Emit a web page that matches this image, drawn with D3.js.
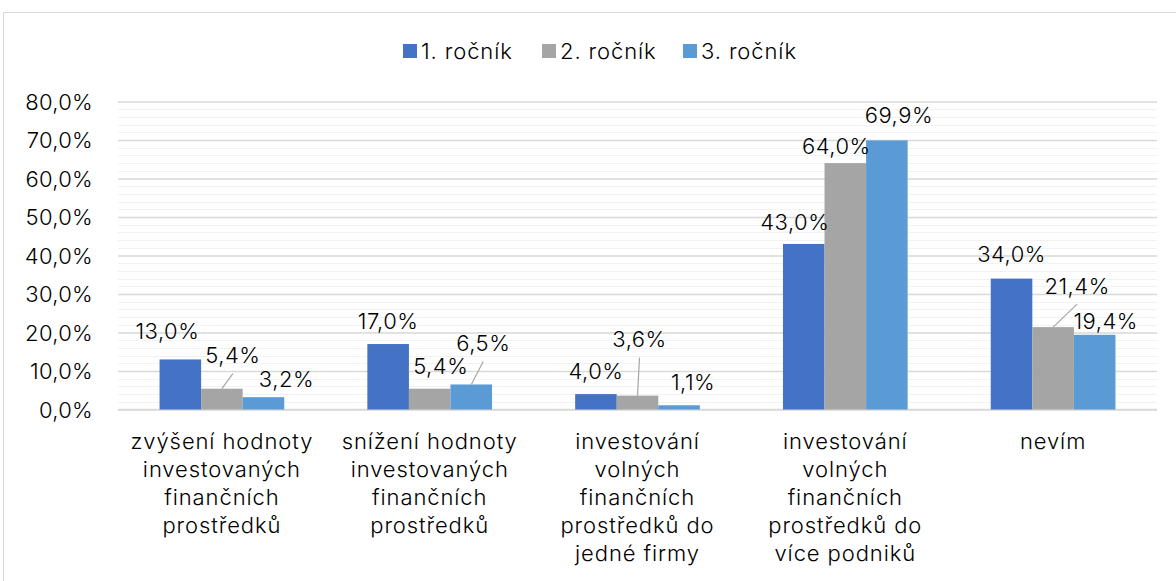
<!DOCTYPE html>
<html>
<head>
<meta charset="utf-8">
<script src="https://cdn.jsdelivr.net/npm/d3@7"></script>
<style>
  html, body { margin: 0; padding: 0; background: #fff; }
  svg { display: block; font-family: Inter, "Noto Sans", sans-serif; font-weight: 300; }
</style>
</head>
<body>
<svg id="chart" width="1176" height="581"></svg>
<script>
// ---- data ----
const categories = [
  ["zvýšení hodnoty", "investovaných", "finančních", "prostředků"],
  ["snížení hodnoty", "investovaných", "finančních", "prostředků"],
  ["investování", "volných", "finančních", "prostředků do", "jedné firmy"],
  ["investování", "volných", "finančních", "prostředků do", "více podniků"],
  ["nevím"]
];
const seriesNames = ["1. ročník", "2. ročník", "3. ročník"];
const rocnik1 = [13.0, 17.0, 4.0, 43.0, 34.0];
const rocnik2 = [5.4, 5.4, 3.6, 64.0, 21.4];
const rocnik3 = [3.2, 6.5, 1.1, 69.9, 19.4];
const yTicks = [0, 10, 20, 30, 40, 50, 60, 70, 80];

// ---- layout / style (not data) ----
const colors = ["#4472C4", "#A5A5A5", "#5B9BD5"];
// manual data-label nudges (px) per series, per category: [dx, dy]
const nudge = [
  [[-13, -5], [0, 0], [0, 0], [-9, 1], [0, -1]],
  [[11, -10], [11, 1], [2, -33], [-9, 6], [24, -18]],
  [[23, 5], [12, -18], [14, 0], [12, -2], [11, 9]]
];
const leader = [
  [false, false, false, false, false],
  [true, false, true, false, true],
  [false, true, false, false, false]
];

const svg = d3.select("#chart");
const W = 1176, H = 581;
const plot = { left: 118, right: 1157, top: 101.5, bottom: 409.5 };
const fs = 22;
const ls = "0.9px";

// outer border
svg.append("rect").attr("x", 3.5).attr("y", 12.5).attr("width", W + 10).attr("height", H + 10)
  .attr("fill", "#fff").attr("stroke", "#D9D9D9").attr("stroke-width", 1);

const x0 = d3.scaleBand().domain(d3.range(categories.length)).range([plot.left, plot.right]).paddingInner(0).paddingOuter(0);
const bw = x0.bandwidth() / 5; // gap width 200%
const x1 = d3.scaleBand().domain(d3.range(3)).range([0, bw * 3]);
const y = d3.scaleLinear().domain([0, 80]).range([plot.bottom, plot.top]);

// minor gridlines every 2%
const minor = d3.range(0, 81, 2).filter(v => v % 10 !== 0);
svg.append("g").selectAll("line").data(minor).join("line")
  .attr("x1", plot.left).attr("x2", plot.right)
  .attr("y1", d => Math.round(y(d)) + 0.5).attr("y2", d => Math.round(y(d)) + 0.5)
  .attr("stroke", "#F2F2F2").attr("stroke-width", 1);

// major gridlines via axis
const yAxis = d3.axisLeft(y).tickValues(yTicks).tickSize(-(plot.right - plot.left)).tickPadding(0)
  .tickFormat(d => d.toFixed(1).replace(".", ",") + "%");
const gy = svg.append("g").attr("transform", `translate(${plot.left},0)`).call(yAxis);
gy.select(".domain").remove();
gy.selectAll(".tick line").attr("stroke", "#D9D9D9").attr("stroke-width", 1.5);
gy.selectAll(".tick text").attr("x", -25).attr("dy", "0.35em")
  .attr("font-size", fs).attr("fill", "#000").attr("font-family", "Inter, sans-serif")
  .attr("font-weight", 300).attr("letter-spacing", "0.3px");

// baseline
svg.append("line").attr("x1", plot.left).attr("x2", plot.right)
  .attr("y1", y(0)).attr("y2", y(0)).attr("stroke", "#D9D9D9").attr("stroke-width", 1.5);

const series = [rocnik1, rocnik2, rocnik3];

series.forEach((vals, s) => {
  const g = svg.append("g");
  g.selectAll("rect").data(vals).join("rect")
    .attr("x", (d, i) => x0(i) + bw + x1(s))
    .attr("width", x1.bandwidth())
    .attr("y", d => y(d))
    .attr("height", d => y(0) - y(d))
    .attr("fill", colors[s]);
});

// data labels
series.forEach((vals, s) => {
  vals.forEach((v, i) => {
    const bx = x0(i) + bw + x1(s) + x1.bandwidth() / 2;
    const by = y(v);
    const lx = bx + nudge[s][i][0];
    const ly = by - 23 + nudge[s][i][1];
    if (leader[s][i]) {
      svg.append("line").attr("x1", bx).attr("y1", by).attr("x2", lx).attr("y2", ly + 18)
        .attr("stroke", "#A6A6A6").attr("stroke-width", 1.2);
    }
    svg.append("text").attr("x", lx).attr("y", ly).attr("dy", "0.35em")
      .attr("text-anchor", "middle").attr("font-size", fs).attr("letter-spacing", "0.5px").attr("fill", "#000")
      .text(v.toFixed(1).replace(".", ",") + "%");
  });
});

// category labels
categories.forEach((lines, i) => {
  const cx = x0(i) + x0.bandwidth() / 2;
  const t = svg.append("text").attr("text-anchor", "middle").attr("font-size", fs)
    .attr("letter-spacing", ls).attr("fill", "#000");
  lines.forEach((ln, k) => {
    t.append("tspan").attr("x", cx).attr("y", 441 + k * 28).attr("dy", "0.35em").text(ln);
  });
});

// legend
const legendX = [403, 542, 683];
seriesNames.forEach((n, i) => {
  const g = svg.append("g").attr("transform", `translate(${legendX[i]},51)`);
  g.append("rect").attr("x", 0).attr("y", -7).attr("width", 14).attr("height", 14).attr("fill", colors[i]);
  g.append("text").attr("x", 18).attr("y", 0).attr("dy", "0.35em").attr("font-size", fs)
    .attr("letter-spacing", ls).attr("fill", "#000").text(n);
});
</script>
</body>
</html>
